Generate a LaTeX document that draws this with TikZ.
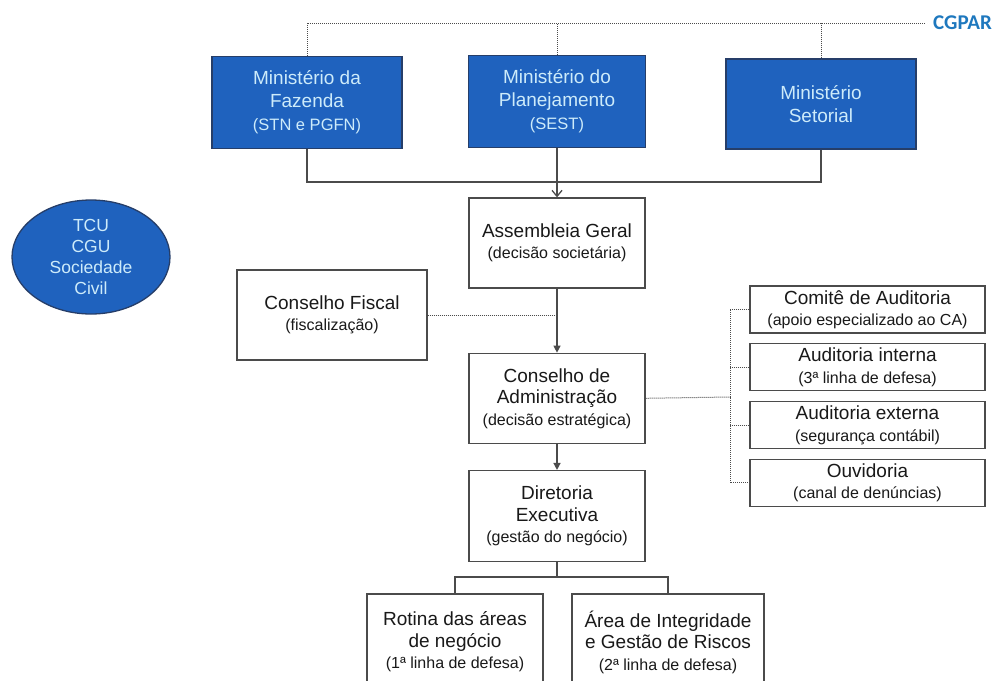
\documentclass[tikz,border=0pt]{standalone}
\usepackage{fontspec}
\setmainfont{Liberation Sans}
\newfontfamily\carlito{Carlito}
\usepackage{tikz}
\usetikzlibrary{shapes.geometric, arrows.meta, positioning}
\definecolor{azulmin}{RGB}{31,98,190}
\definecolor{bordamin}{RGB}{38,62,105}
\definecolor{textomin}{RGB}{205,235,250}
\definecolor{cinzalinha}{RGB}{75,75,75}
\definecolor{azulcgpar}{RGB}{30,120,190}
\newcommand{\titulo}{\fontsize{19}{21.5}\selectfont}
\newcommand{\subtexto}{\fontsize{16}{21.5}\selectfont}
\newcommand{\subazul}{\fontsize{16.5}{23}\selectfont}
\tikzset{
  ministerio/.style={rectangle, draw=bordamin, fill=azulmin, line width=1.3pt,
    minimum width=190pt, minimum height=92pt, align=center, text=textomin,
    font=\fontsize{19}{23}\selectfont},
  caixa/.style={rectangle, draw=cinzalinha, fill=white, line width=1.3pt,
    minimum width=176pt, minimum height=90pt, align=center,
    text=black!90, font=\titulo},
  caixad/.style={caixa, minimum width=235pt, minimum height=47pt, inner sep=1pt},
  orgao/.style={ellipse, draw=bordamin, fill=azulmin, line width=1.3pt,
    minimum width=158pt, minimum height=114pt, inner sep=0pt, align=center,
    text=textomin, font=\fontsize{17.5}{21.3}\selectfont},
  seta/.style={-{Triangle[length=7pt, width=7pt]}, line width=1.3pt, color=cinzalinha},
  setaab/.style={-{Straight Barb[length=6pt, width=10pt]}, line width=1.3pt, color=cinzalinha},
  linha/.style={line width=1.3pt, color=cinzalinha},
  pontilhado/.style={densely dotted, line width=1pt, color=cinzalinha}
}
\begin{document}
\begin{tikzpicture}[x=1pt, y=-1pt, node distance=26pt and 20pt]
  \useasboundingbox (0,0) rectangle (995,680);
  \clip (0,0) rectangle (995,680);
  \node[ministerio] (fazenda) at (307,102.5)
    {Ministério da\\Fazenda\\{\subazul (STN e PGFN)}};
  \node[ministerio, minimum width=177pt] (planej) at (557,101.5)
    {Ministério do\\Planejamento\\{\subazul (SEST)}};
  \node[ministerio, minimum height=90pt] (setorial) at (821,104) {Ministério\\Setorial};
  \node[font=\carlito\bfseries\fontsize{21}{24}\selectfont, text=azulcgpar,
    anchor=west, inner sep=0pt] (cgpar) at (933,23) {CGPAR};
  \node[orgao] (tcu) at (91,257) {TCU\\CGU\\Sociedade\\Civil};
  \node[caixa] (assembleia) at (557,243)
    {Assembleia Geral\\{\subtexto (decisão societária)}};
  \node[caixa, below=64pt of assembleia] (consadm)
    {Conselho de\\Administração\\{\subtexto (decisão estratégica)}};
  \node[caixa, below=of consadm, minimum height=91pt] (diretoria)
    {Diretoria\\Executiva\\{\subtexto (gestão do negócio)}};
  \node[caixa, minimum width=190pt] (fiscal) at (332,315)
    {Conselho Fiscal\\{\subtexto (fiscalização)}};
  \node[caixad] (comite) at (867.5,309.5)
    {Comitê de Auditoria\\{\subtexto (apoio especializado ao CA)}};
  \node[caixad, below=9.5pt of comite] (audint)
    {Auditoria interna\\{\subtexto (3ª linha de defesa)}};
  \node[caixad, below=9.5pt of audint] (audext)
    {Auditoria externa\\{\subtexto (segurança contábil)}};
  \node[caixad, below=9.5pt of audext] (ouvid)
    {Ouvidoria\\{\subtexto (canal de denúncias)}};
  \node[caixa, minimum height=96pt] (rotina) at (455,642)
    {Rotina das áreas\\de negócio\\{\subtexto (1ª linha de defesa)}};
  \node[caixa, minimum width=192pt, minimum height=96pt] (integr) at (668,642)
    {Área de Integridade\\e Gestão de Riscos\\{\subtexto (2ª linha de defesa)}};
  \coordinate (barra) at (557,182);
  \coordinate (ramo) at (557,577);
  \coordinate (derivacao) at (730,397);
  \draw[pontilhado] (fazenda.north) |- ([xshift=-8pt]cgpar.west);
  \draw[pontilhado] (planej.north) -- (planej.north |- cgpar.west);
  \draw[pontilhado] (setorial.north) -- (setorial.north |- cgpar.west);
  \draw[linha] (fazenda.south) |- (barra) -| (setorial.south);
  \draw[setaab] (planej.south) -- (assembleia.north);
  \draw[pontilhado] (fiscal.east) -- (fiscal.east -| assembleia.south);
  \draw[seta] (assembleia) -- (consadm);
  \draw[seta] (consadm) -- (diretoria);
  \draw[pontilhado] (consadm.east) -- (derivacao);
  \draw[pontilhado] (comite.west) -| (derivacao) |- (ouvid.west);
  \draw[pontilhado] (audint.west) -- (audint.west -| derivacao);
  \draw[pontilhado] (audext.west) -- (audext.west -| derivacao);
  \draw[linha] (diretoria.south) -- (ramo);
  \draw[linha] (rotina.north) |- (ramo) -| (integr.north);
\end{tikzpicture}
\end{document}
